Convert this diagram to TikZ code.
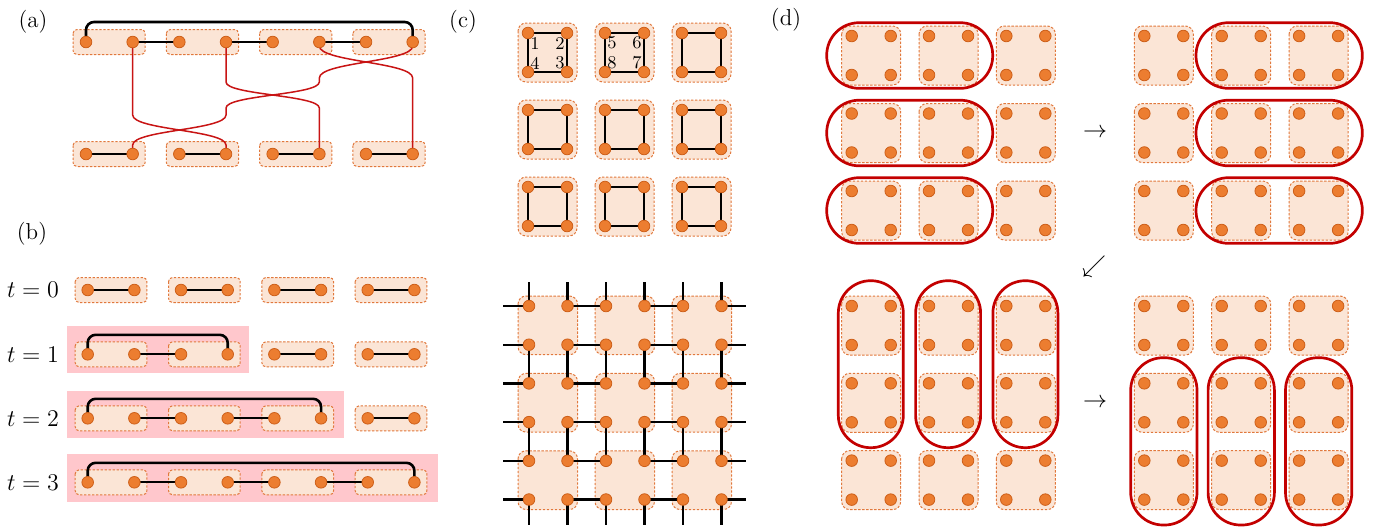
\documentclass[tikz,border=0pt]{standalone}
\definecolor{dotfill}{RGB}{236,125,48}
\definecolor{dotdraw}{RGB}{205,95,25}
\definecolor{boxfill}{RGB}{251,229,214}
\definecolor{boxdraw}{RGB}{225,120,60}
\definecolor{redl}{RGB}{200,20,20}
\definecolor{stad}{RGB}{195,0,0}
\definecolor{pinkbg}{RGB}{255,199,204}
\pgfdeclarelayer{l0}\pgfdeclarelayer{l1}\pgfdeclarelayer{l2}
\pgfsetlayers{l0,l1,l2,main}
\begin{document}
\begin{tikzpicture}[x=0.5pt,y=-0.5pt,
  dot/.style={circle,fill=dotfill,draw=dotdraw,line width=0.4pt,inner sep=0pt,minimum size=5.8pt},
  pbox/.style={fill=boxfill,draw=boxdraw,line width=0.5pt,dash pattern=on 1.2pt off 0.8pt,rounded corners=2pt},
  sbox/.style={pbox,rounded corners=4pt},
  link/.style={line width=1pt,black},
  sqlink/.style={line width=1.15pt,black},
  arcst/.style={line width=1.3pt,black,rounded corners=4pt},
  rline/.style={redl,line width=0.75pt},
  stadium/.style={stad,line width=1.35pt,rounded corners=16.2pt},
  lab/.style={font=\fontsize{11.5}{13}\selectfont,inner sep=0pt},
  arr/.style={font=\fontsize{13}{15}\selectfont,inner sep=0pt},
  num/.style={font=\fontsize{9}{10}\selectfont,inner sep=0pt}]
\useasboundingbox (0,0) rectangle (1380,527);

% ---------------- labels
\node[lab] (la) at (33,22) {(a)};
\node[lab] (lb) at (32,234) {(b)};
\node[lab] (lc) at (463,22) {(c)};
\node[lab] (ld) at (786,20) {(d)};

% ---------------- panel (a)
\foreach \i in {1,...,8} {
  \node[dot] (at\i) at ({86+46.67*(\i-1)},42) {};
  \node[dot] (ab\i) at ({86+46.67*(\i-1)},154) {};
}
\begin{pgfonlayer}{l1}
\foreach \k in {0,...,3} {
  \draw[pbox] ({86+93.33*\k-13},29.5) rectangle ({86+93.33*\k+46.67+12.5},54.5);
  \draw[pbox] ({86+93.33*\k-13},141.5) rectangle ({86+93.33*\k+46.67+12.5},166.5);
}
\end{pgfonlayer}
\begin{pgfonlayer}{l2}
\draw[link] (at2.center) -- (at3.center);
\draw[link] (at4.center) -- (at5.center);
\draw[link] (at6.center) -- (at7.center);
\draw[link] (ab1.center) -- (ab2.center);
\draw[link] (ab3.center) -- (ab4.center);
\draw[link] (ab5.center) -- (ab6.center);
\draw[link] (ab7.center) -- (ab8.center);
\draw[arcst] (at1.center) -- ++(0,-20) -| (at8.center);
\draw[rline] (at2.center) -- (132.67,115) .. controls (132.67,130) and (226,130) .. (226,145) -- (ab4.center);
\draw[rline] (at4.center) -- (226,82) .. controls (226,95) and (319.33,95) .. (319.33,108) -- (ab6.center);
\draw[rline] (at6.center) -- (319.33,46) .. controls (319.33,62) and (412.67,62) .. (412.67,78) -- (ab8.center);
\draw[rline] (at8.center) -- (412.67,46) .. controls (412.67,62) and (319.33,62) .. (319.33,78) -- (319.33,82)
   .. controls (319.33,95) and (226,95) .. (226,108) -- (226,115)
   .. controls (226,130) and (132.67,130) .. (132.67,145) -- (ab2.center);
\end{pgfonlayer}

% ---------------- panel (b)
\begin{pgfonlayer}{l0}
\fill[pinkbg] (67,326) rectangle (249,373);
\fill[pinkbg] (67,391) rectangle (344,438);
\fill[pinkbg] (67,454) rectangle (438,502);
\end{pgfonlayer}
\foreach \r/\yy in {0/290,1/354.3,2/418.3,3/482.3} {
  \node[lab] (t\r) at (33,\yy) {$t=\r$};
  \foreach \i in {1,...,8} {
    \node[dot] (b\r-\i) at ({87.7+46.67*(\i-1)},\yy) {};
  }
  \begin{pgfonlayer}{l1}
  \foreach \k in {0,...,3} {
    \draw[pbox] ({87.7+93.33*\k-12.5},\yy-12.5) rectangle ({87.7+93.33*\k+46.67+12.5},\yy+12.5);
  }
  \end{pgfonlayer}
}
\begin{pgfonlayer}{l2}
\foreach \a/\b in {1/2,3/4,5/6,7/8} \draw[link] (b0-\a.center) -- (b0-\b.center);
\foreach \a/\b in {2/3,5/6,7/8} \draw[link] (b1-\a.center) -- (b1-\b.center);
\foreach \a/\b in {2/3,4/5,7/8} \draw[link] (b2-\a.center) -- (b2-\b.center);
\foreach \a/\b in {2/3,4/5,6/7} \draw[link] (b3-\a.center) -- (b3-\b.center);
\draw[arcst] (b1-1.center) -- ++(0,-19.5) -| (b1-4.center);
\draw[arcst] (b2-1.center) -- ++(0,-19.5) -| (b2-6.center);
\draw[arcst] (b3-1.center) -- ++(0,-19.5) -| (b3-8.center);
\end{pgfonlayer}

% ---------------- panel (c) top
\foreach \r in {0,1,2} {
  \foreach \c in {0,1,2} {
    \pgfmathsetmacro\xo{528+77*\c}
    \pgfmathsetmacro\yo{33+77*\r}
    \node[dot] (c\r\c-1) at (\xo,\yo) {};
    \node[dot] (c\r\c-2) at (\xo+39,\yo) {};
    \node[dot] (c\r\c-3) at (\xo+39,\yo+39) {};
    \node[dot] (c\r\c-4) at (\xo,\yo+39) {};
    \begin{pgfonlayer}{l1}
      \draw[sbox] (\xo-10,\yo-10) rectangle (\xo+49,\yo+49);
    \end{pgfonlayer}
    \begin{pgfonlayer}{l2}
      \draw[sqlink] (c\r\c-1.center) -- (c\r\c-2.center) -- (c\r\c-3.center) -- (c\r\c-4.center) -- cycle;
    \end{pgfonlayer}
  }
}
\node[num] (n1) at (535,43) {1};
\node[num] (n2) at (560,43) {2};
\node[num] (n4) at (535,63) {4};
\node[num] (n3) at (560,63) {3};
\node[num] (n5) at (612,43) {5};
\node[num] (n6) at (637,43) {6};
\node[num] (n8) at (612,63) {8};
\node[num] (n7) at (637,63) {7};

% ---------------- panel (c) bottom
\foreach \r in {1,...,6} {
  \foreach \c in {1,...,6} {
    \node[dot] (g\r-\c) at ({529+38.5*(\c-1)},{306+38.7*(\r-1)}) {};
  }
  \coordinate (gl\r) at (503,{306+38.7*(\r-1)});
  \coordinate (gr\r) at (746,{306+38.7*(\r-1)});
  \coordinate (gt\r) at ({529+38.5*(\r-1)},282);
  \coordinate (gb\r) at ({529+38.5*(\r-1)},525);
}
\begin{pgfonlayer}{l1}
\foreach \R in {0,1,2} {
  \foreach \C in {0,1,2} {
    \draw[sbox] ({529+77*\C-11},{306+77.4*\R-10}) rectangle ({529+77*\C+48.5},{306+77.4*\R+48.7});
  }
}
\end{pgfonlayer}
\begin{pgfonlayer}{l2}
\foreach \r in {1,...,6} {
  \draw[sqlink] (gl\r) -- (g\r-1.center);
  \draw[sqlink] (g\r-2.center) -- (g\r-3.center);
  \draw[sqlink] (g\r-4.center) -- (g\r-5.center);
  \draw[sqlink] (g\r-6.center) -- (gr\r);
  \draw[sqlink] (gt\r) -- (g1-\r.center);
  \draw[sqlink] (g2-\r.center) -- (g3-\r.center);
  \draw[sqlink] (g4-\r.center) -- (g5-\r.center);
  \draw[sqlink] (g6-\r.center) -- (gb\r);
}
\end{pgfonlayer}

% ---------------- panel (d)
\foreach \g/\gx/\gy/\sx/\sy in {TL/851.7/36/77.3/77.5,TR/1144.3/36/77.4/77.5,BL/851.7/306/77.3/77.3,BR/1144.3/306/77.4/77.3} {
  \foreach \R in {0,1,2} {
    \foreach \C in {0,1,2} {
      \pgfmathsetmacro\xo{\gx+\sx*\C}
      \pgfmathsetmacro\yo{\gy+\sy*\R}
      \node[dot] (\g\R\C-1) at (\xo,\yo) {};
      \node[dot] (\g\R\C-2) at (\xo+39,\yo) {};
      \node[dot] (\g\R\C-3) at (\xo+39,\yo+39) {};
      \node[dot] (\g\R\C-4) at (\xo,\yo+39) {};
      \begin{pgfonlayer}{l1}
        \draw[sbox] (\xo-10,\yo-10) rectangle (\xo+49,\yo+49);
      \end{pgfonlayer}
    }
  }
}
\foreach \R in {0,1,2} {
  \draw[stadium] (826.7,{22.7+77.5*\R}) rectangle (992.7,{88.3+77.5*\R});
  \draw[stadium] (1196,{22.7+77.5*\R}) rectangle (1362.3,{88.3+77.5*\R});
}
\foreach \C in {0,1,2} {
  \draw[stadium] ({838.3+77.3*\C},280.7) rectangle ({903.3+77.3*\C},447.7);
  \draw[stadium] ({1130.7+77.4*\C},357.7) rectangle ({1197+77.4*\C},525);
}
\node[arr] (ar1) at (1095,133) {$\rightarrow$};
\node[arr] (ar2) at (1094,266) {$\swarrow$};
\node[arr] (ar3) at (1095,403) {$\rightarrow$};
\end{tikzpicture}
\end{document}
